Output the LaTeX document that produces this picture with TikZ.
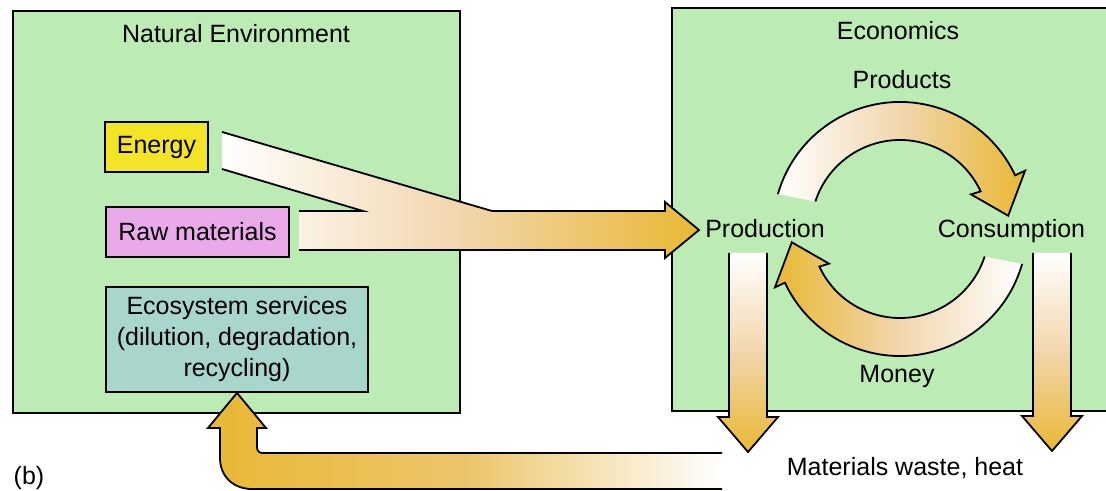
\documentclass[tikz,border=0pt]{standalone}
\usepackage{fontspec}
\setmainfont{Liberation Sans}

\definecolor{envgreen}{RGB}{188,236,180}
\definecolor{energyyellow}{RGB}{244,228,40}
\definecolor{rawpink}{RGB}{234,170,234}
\definecolor{ecoblue}{RGB}{168,214,204}
\definecolor{flowgold}{RGB}{232,184,52}
\definecolor{flowpeach}{RGB}{242,214,172}

\tikzset{
  lbl/.style={font=\fontsize{12.5}{15.5}\selectfont, inner sep=0pt},
  panel/.style={draw, line width=0.9pt, fill=envgreen},
  srcbox/.style={lbl, draw, line width=0.9pt, align=center, minimum height=25pt},
  flow/.style={draw, line width=0.9pt, line join=miter},
}

\begin{document}
\begin{tikzpicture}[x=0.5pt, y=-0.5pt]
  \useasboundingbox (0,0) rectangle (1106,491);
  \clip (0,0) rectangle (1106,491);

  % Panels
  \draw[panel] (13,11) rectangle (460,413);
  \draw[panel] (672,8) rectangle (1120,411);
  \node[lbl, anchor=base] (natenv) at (236,43) {Natural Environment};
  \node[lbl, anchor=base] (econ) at (898,40) {Economics};

  % Resources
  \node[srcbox, fill=energyyellow, minimum width=51.5pt] (energy) at (156.5,147) {Energy};
  \node[srcbox, fill=rawpink, minimum width=91.5pt] (raw) at (197.5,232) {Raw materials};
  \node[srcbox, fill=ecoblue, minimum width=131pt, minimum height=52.5pt] (eco) at (237,339.5)
    {Ecosystem services\\(dilution, degradation,\\recycling)};

  % Inflow to production
  \path[left color=white, right color=flowgold, middle color=flowpeach]
    (222,132) -- (492,211) -- (665,211) -- (665,202) -- (699,230) -- (665,258)
    -- (665,250) -- (299,250) -- (299,211) -- (363,211) -- (222,169) -- cycle;
  \draw[flow] (222,132) -- (492,211) -- (665,211) -- (665,202) -- (699,230)
    -- (665,258) -- (665,250) -- (299,250);
  \draw[flow] (299,211) -- (363,211) -- (222,169);

  % Circular flow
  \begin{scope}[shift={(900,229)}]
    \path[flow, left color=white, right color=flowgold, middle color=flowpeach]
      (-164:127) arc[start angle=-164, end angle=-25, radius=127]
      -- (-25:138) -- (-7:109) -- (-26:79) -- (-25:89)
      arc[start angle=-25, end angle=-162, radius=89];
    \path[flow, left color=flowgold, right color=white, middle color=flowpeach]
      (16:127) arc[start angle=16, end angle=155, radius=127]
      -- (155:138) -- (173:109) -- (154:79) -- (155:89)
      arc[start angle=155, end angle=18, radius=89];
  \end{scope}

  % Waste outflows
  \path[flow, top color=white, bottom color=flowgold, middle color=flowpeach]
    (729,253) -- (729,417) -- (718,417) -- (748,452) -- (778,417) -- (767,417) -- (767,253);
  \path[flow, top color=white, bottom color=flowgold, middle color=flowpeach]
    (1033,253) -- (1033,416) -- (1022,416) -- (1052,451) -- (1082,416) -- (1071,416) -- (1071,253);

  % Return to ecosystem services
  \path[flow, left color=flowgold, right color=white, middle color=flowgold!55!flowpeach]
    (722,453) -- (263,453) .. controls (259,453) and (257,451) .. (257,447)
    -- (257,428) -- (266,428) -- (eco.south) -- (208,428) -- (220,428)
    -- (220,458) .. controls (220,477) and (234,489) .. (252,489) -- (722,489);

  % Labels
  \node[lbl, anchor=base] (products) at (902,89) {Products};
  \node[lbl, anchor=base] (production) at (765,238) {Production};
  \node[lbl, anchor=base] (consumption) at (1011.5,238) {Consumption};
  \node[lbl, anchor=base] (money) at (897,382) {Money};
  \node[lbl, anchor=base] (waste) at (905,475) {Materials waste, heat};
  \node[lbl, anchor=base] (part) at (29,484) {(b)};
\end{tikzpicture}
\end{document}
